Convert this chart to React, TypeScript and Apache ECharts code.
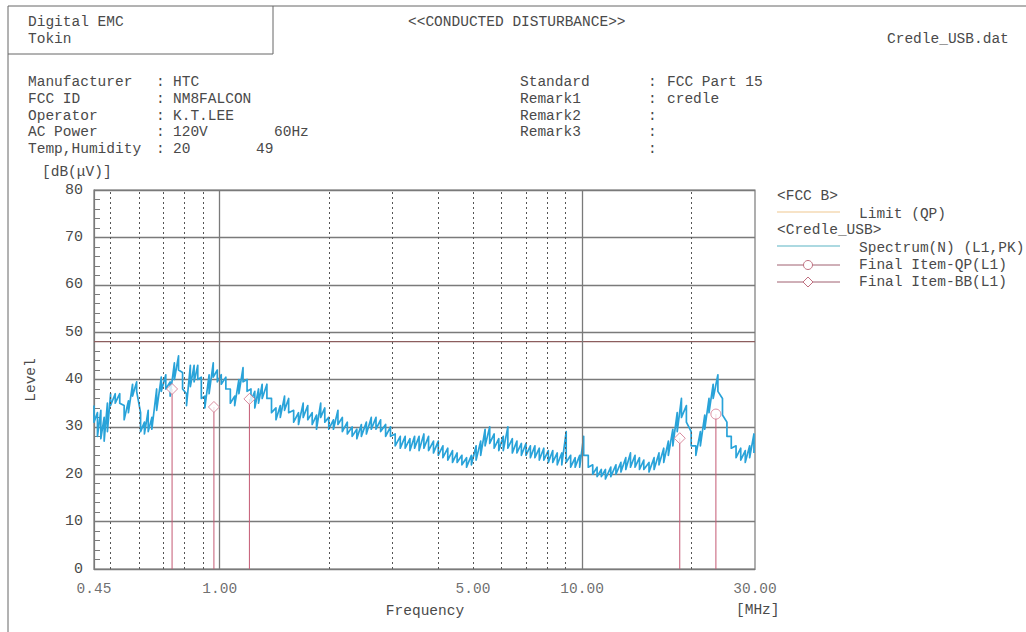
import React, { useEffect, useRef } from "react";
import * as echarts from "echarts";

// ---- data ----
const specFreq = [
  0.45, 0.46, 0.47, 0.48, 0.49, 0.5, 0.515, 0.53, 0.545, 0.56, 0.575, 0.59, 0.605, 0.62, 0.635, 0.65, 0.67, 0.69, 0.71, 0.73, 0.75, 0.77, 0.79, 0.81, 0.83, 0.85, 0.87, 0.89, 0.91, 0.935, 0.96, 0.985, 1.01,
  1.04, 1.07, 1.1, 1.13, 1.16, 1.19, 1.22, 1.25, 1.28, 1.31, 1.35, 1.39, 1.43, 1.47, 1.51, 1.55, 1.6, 1.65, 1.7, 1.75, 1.8, 1.85, 1.9, 1.95, 2.0,
  2.06, 2.12, 2.18, 2.25, 2.32, 2.39, 2.46, 2.54, 2.62, 2.7, 2.78, 2.87, 2.96, 3.05, 3.15, 3.25, 3.35, 3.45, 3.55, 3.66, 3.77, 3.89, 4.01, 4.13, 4.26, 4.39, 4.52, 4.66, 4.8, 4.95, 5.1,
  5.25, 5.4, 5.56, 5.72, 5.89, 6.06, 6.24, 6.42, 6.61, 6.8, 7.0, 7.2, 7.41, 7.62, 7.84, 8.07, 8.3, 8.54, 8.79, 9.04, 9.3, 9.57, 9.85, 10.1,
  10.4, 10.7, 11.0, 11.3, 11.6, 12.0, 12.4, 12.8, 13.2, 13.6, 14.0, 14.4, 14.8, 15.3, 15.8, 16.3, 16.8, 17.3, 17.8, 18.3, 18.8, 19.4, 20.0, 20.6, 21.2, 21.8, 22.4, 23.0, 23.7, 24.4, 25.1, 25.8, 26.6, 27.4, 28.2, 29.0, 29.8,
];
const specHi = [
  34.5, 33, 33.5, 32, 35, 37, 37, 37, 34.5, 35.5, 39, 39.5, 33, 31, 33.5, 32, 38, 40.5, 41, 39.5, 43.5, 45, 41.5, 37, 43, 43, 43, 40.5, 36.5, 41, 43.5, 42, 41,
  40.5, 38, 36.5, 40, 42.5, 40, 38, 37.5, 38, 39, 39, 36, 34, 34.5, 36.5, 36, 33.5, 33, 35, 34.5, 33, 32.5, 35, 34, 32,
  31.5, 33.5, 32, 31, 30, 29.5, 30.5, 31, 32, 32, 31.5, 30.5, 30, 28.5, 28, 28, 27.5, 28, 28, 28.5, 28, 27, 27, 26, 25.5, 25, 24.5, 24, 23.5, 24, 26,
  27, 29.5, 30, 28.5, 27.5, 28, 30, 27.5, 27, 26.5, 26.5, 26, 26, 25.5, 25.5, 25, 25, 24.5, 24.5, 29, 24, 23.5, 24, 28,
  24, 22, 21.5, 21, 21, 21.5, 22, 22.5, 23.5, 24.5, 24, 23.5, 23, 22.5, 23.5, 24.5, 25.5, 27, 29.5, 33, 36, 34.5, 29, 26, 29, 32.5, 36, 39, 41, 36, 31, 28, 26, 25.5, 25, 26, 28.5,
];
const specLo = [
  31, 28, 27.5, 27, 29, 34.5, 35, 35, 31.5, 33, 36.5, 37.5, 29, 28.5, 29, 29.5, 33.5, 37.5, 38, 36.5, 40, 42, 38, 34.5, 38.5, 39.5, 40, 36, 34, 37, 40.5, 39.5, 39,
  38, 35, 34.5, 37, 39.5, 37.5, 35.5, 34, 35, 36, 36, 33, 31.5, 32, 33.5, 33, 31, 30.5, 32, 31.5, 30.5, 29.5, 32, 31, 29.5,
  29.5, 30.5, 29, 28.5, 28, 27.5, 28, 28.5, 29.5, 29.5, 29, 28, 28, 26, 25.5, 25.5, 25, 25.5, 25, 25.5, 25, 24.5, 24, 23.5, 23, 22.5, 22.5, 22, 21.5, 22, 23,
  24, 26, 26.5, 25.5, 25, 25, 25.5, 24.5, 24.5, 24, 24, 23.5, 23.5, 23, 23, 22.5, 22.5, 22, 22, 22.5, 21.5, 21.5, 21.5, 24,
  21.5, 20, 19.5, 19.5, 19, 19.5, 20, 20.5, 21, 21.5, 21.5, 21, 21, 20.5, 21, 22, 22.5, 24, 26, 29, 32, 31, 26, 24, 26, 29.5, 33, 36, 37.5, 32.5, 28, 25.5, 23.5, 23, 22.5, 23.5, 24.5,
];

const limitFreq = [0.45, 30];
const limitLevel = [48, 48];

const finalBBFreq = [0.739, 0.964, 1.208, 18.6];
const finalBBLevel = [38.0, 34.2, 35.9, 27.6];
const finalQPFreq = [23.4];
const finalQPLevel = [32.7];

const xTickValues = [0.45, 1, 5, 10, 30];
const xTickLabels = ["0.45", "1.00", "5.00", "10.00", "30.00"];
const gridDottedFreq = [0.5, 0.6, 0.7, 0.8, 0.9, 2, 3, 4, 5, 6, 7, 8, 9, 20];
const gridSolidFreq = [1, 10];

const infoLeftLabels = ["Manufacturer", "FCC ID", "Operator", "AC Power", "Temp,Humidity"];
const infoLeftValues = ["HTC", "NM8FALCON", "K.T.LEE", "120V", "20"];
const infoLeftExtra = ["", "", "", "60Hz", "49"];
const infoRightLabels = ["Standard", "Remark1", "Remark2", "Remark3", ""];
const infoRightValues = ["FCC Part 15", "credle", "", "", ""];

// ---- styling ----
const FONT = '"Liberation Mono", "DejaVu Sans Mono", monospace';
const FS = 14.5;
const TXT = "#4a4a4a";
const TRACE = "#29a3d9";
const STEM = "#c45a74";
const GRID = "#7a7a7a";

function txt(text: string, x: number, y: number, extra: any = {}) {
  return {
    type: "text",
    x,
    y,
    silent: true,
    style: {
      text,
      fill: TXT,
      fontSize: FS,
      fontFamily: FONT,
      verticalAlign: "middle",
      align: "left",
      ...extra,
    },
  };
}
function ln(x1: number, y1: number, x2: number, y2: number, stroke: string, lineWidth = 1) {
  return { type: "line", silent: true, shape: { x1, y1, x2, y2 }, style: { stroke, lineWidth } };
}

export default function App() {
  const ref = useRef<HTMLDivElement>(null);
  useEffect(() => {
    if (!ref.current) return;
    const chart = echarts.init(ref.current, undefined, { renderer: "svg" });

    const spectrumData: number[][] = [];
    specFreq.forEach((f, i) => {
      spectrumData.push([f, specHi[i]]);
      spectrumData.push([f, specLo[i]]);
    });

    const rowsY = [82, 99, 116, 132, 149];
    const graphics: any[] = [];
    // page frame and header box
    graphics.push(ln(8, 6, 1026, 6, "#666"));
    graphics.push(ln(8, 6, 8, 632, "#666"));
    graphics.push(ln(273, 6, 273, 54, "#666"));
    graphics.push(ln(8, 54, 273, 54, "#666"));
    graphics.push(txt("Digital EMC", 28, 22));
    graphics.push(txt("Tokin", 28, 39));
    graphics.push(txt("<<CONDUCTED DISTURBANCE>>", 408, 22));
    graphics.push(txt("Credle_USB.dat", 887, 39));
    rowsY.forEach((y, i) => {
      graphics.push(txt(infoLeftLabels[i], 28, y));
      graphics.push(txt(":", 156, y));
      graphics.push(txt(infoLeftValues[i], 173, y));
      if (infoLeftExtra[i]) graphics.push(txt(infoLeftExtra[i], i === 3 ? 274 : 256, y));
      if (infoRightLabels[i]) graphics.push(txt(infoRightLabels[i], 520, y));
      graphics.push(txt(":", 648, y));
      if (infoRightValues[i]) graphics.push(txt(infoRightValues[i], 667, y));
    });
    graphics.push(txt("[dB(\u03bcV)]", 42, 172));
    const levelText: any = txt("Level", 31, 380, { align: "center" });
    levelText.rotation = Math.PI / 2;
    graphics.push(levelText);
    graphics.push(txt("Frequency", 425, 611, { align: "center" }));
    graphics.push(txt("[MHz]", 736, 610));
    // legend
    graphics.push(txt("<FCC B>", 777, 196));
    graphics.push(ln(777, 212, 840, 212, "#f0c890", 1.2));
    graphics.push(txt("Limit (QP)", 859, 214));
    graphics.push(txt("<Credle_USB>", 777, 230));
    graphics.push(ln(777, 246, 840, 246, "#5ab4c4", 1.2));
    graphics.push(txt("Spectrum(N) (L1,PK)", 859, 248));
    graphics.push(ln(777, 265, 840, 265, "#a06070", 1));
    graphics.push({
      type: "circle",
      silent: true,
      shape: { cx: 808, cy: 265, r: 4.5 },
      style: { fill: "#fff", stroke: "#c07080", lineWidth: 1 },
    });
    graphics.push(txt("Final Item-QP(L1)", 859, 265));
    graphics.push(ln(777, 282, 840, 282, "#a06070", 1));
    graphics.push({
      type: "polygon",
      silent: true,
      shape: { points: [[808, 277], [813, 282], [808, 287], [803, 282]] },
      style: { fill: "#fff", stroke: "#c07080", lineWidth: 1 },
    });
    graphics.push(txt("Final Item-BB(L1)", 859, 282));

    const markLineData = [
      ...gridDottedFreq.map((f) => ({ xAxis: f, lineStyle: { type: [2, 3], color: "#555", width: 1 } })),
      ...gridSolidFreq.map((f) => ({ xAxis: f, lineStyle: { type: "solid", color: GRID, width: 1.3 } })),
    ];

    const option: any = {
      animation: false,
      backgroundColor: "#fff",
      textStyle: { fontFamily: FONT },
      grid: {
        left: 94,
        right: 271,
        top: 190,
        bottom: 63,
        show: true,
        borderColor: GRID,
        borderWidth: 1.2,
        backgroundColor: "transparent",
      },
      xAxis: {
        type: "log",
        logBase: 10,
        min: 0.45,
        max: 30,
        axisLabel: { show: false },
        axisTick: { show: false },
        splitLine: { show: false },
        minorSplitLine: { show: false },
        axisLine: { show: true, lineStyle: { color: GRID, width: 1.2 } },
      },
      yAxis: {
        type: "value",
        min: 0,
        max: 80,
        interval: 10,
        axisLabel: { fontFamily: FONT, fontSize: 15, color: TXT, margin: 11 },
        splitLine: { show: true, lineStyle: { color: GRID, width: 1.3 } },
        axisLine: { show: true, lineStyle: { color: GRID, width: 1.2 } },
        axisTick: { show: true, inside: true, length: 6, lineStyle: { color: GRID } },
        minorTick: { show: true, splitNumber: 5, length: 6, lineStyle: { color: GRID } },
      },
      graphic: graphics,
      series: [
        {
          name: "Limit (QP)",
          type: "line",
          data: limitFreq.map((f, i) => [f, limitLevel[i]]),
          showSymbol: false,
          lineStyle: { color: "#8c5e5e", width: 1.2 },
          silent: true,
          z: 3,
          markLine: {
            silent: true,
            symbol: ["none", "none"],
            label: { show: false },
            data: markLineData,
          },
        },
        {
          name: "Spectrum(N) (L1,PK)",
          type: "line",
          data: spectrumData,
          showSymbol: false,
          lineStyle: { color: TRACE, width: 1.7, join: "round" },
          silent: true,
          z: 4,
        },
        {
          name: "stems",
          type: "custom",
          silent: true,
          z: 5,
          data: [
            ...finalBBFreq.map((f, i) => [f, finalBBLevel[i]]),
            ...finalQPFreq.map((f, i) => [f, finalQPLevel[i]]),
          ],
          renderItem: (params: any, api: any) => {
            const top = api.coord([api.value(0), api.value(1)]);
            const bot = api.coord([api.value(0), 0]);
            return {
              type: "line",
              shape: { x1: top[0], y1: top[1], x2: bot[0], y2: bot[1] },
              style: { stroke: STEM, lineWidth: 1 },
            };
          },
        },
        {
          name: "Final Item-BB(L1)",
          type: "scatter",
          symbol: "diamond",
          symbolSize: 11,
          z: 6,
          silent: true,
          itemStyle: { color: "#fff", borderColor: "#d07088", borderWidth: 1 },
          data: finalBBFreq.map((f, i) => [f, finalBBLevel[i]]),
        },
        {
          name: "Final Item-QP(L1)",
          type: "scatter",
          symbol: "circle",
          symbolSize: 10,
          z: 6,
          silent: true,
          itemStyle: { color: "#fff", borderColor: "#d07088", borderWidth: 1 },
          data: finalQPFreq.map((f, i) => [f, finalQPLevel[i]]),
        },
        {
          name: "xLabels",
          type: "scatter",
          symbolSize: 0,
          silent: true,
          z: 7,
          data: xTickValues.map((v, i) => ({
            value: [v, 0],
            label: {
              show: true,
              position: "bottom",
              distance: 12,
              formatter: xTickLabels[i],
              fontFamily: FONT,
              fontSize: FS,
              color: TXT,
            },
          })),
        },
      ],
    };
    chart.setOption(option);
    return () => chart.dispose();
  }, []);

  return (
    <div
      ref={ref}
      style={{ position: "fixed", left: 0, top: 0, width: 1026, height: 632, background: "#fff" }}
    />
  );
}
